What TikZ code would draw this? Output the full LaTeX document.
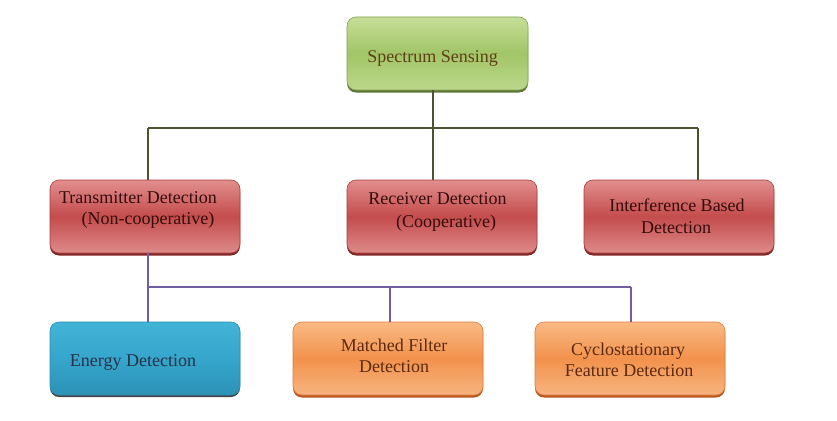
\documentclass[tikz,border=0pt]{standalone}
\usepackage{fontspec}
\setmainfont{Liberation Serif}
\definecolor{gTop}{RGB}{198,222,152}
\definecolor{gMid}{RGB}{162,197,102}
\definecolor{gBot}{RGB}{188,216,140}
\definecolor{gEdge}{RGB}{128,160,78}
\definecolor{gShd}{RGB}{92,118,52}
\definecolor{gTxt}{RGB}{96,62,24}
\definecolor{rTop}{RGB}{226,142,142}
\definecolor{rMid}{RGB}{196,76,76}
\definecolor{rBot}{RGB}{222,138,138}
\definecolor{rEdge}{RGB}{168,60,60}
\definecolor{rShd}{RGB}{130,38,38}
\definecolor{rTxt}{RGB}{52,12,12}
\definecolor{bTop}{RGB}{66,180,214}
\definecolor{bMid}{RGB}{54,166,204}
\definecolor{bBot}{RGB}{44,146,182}
\definecolor{bEdge}{RGB}{40,140,178}
\definecolor{bShd}{RGB}{70,70,70}
\definecolor{bTxt}{RGB}{40,48,70}
\definecolor{oTop}{RGB}{250,186,132}
\definecolor{oMid}{RGB}{242,146,76}
\definecolor{oBot}{RGB}{248,180,128}
\definecolor{oEdge}{RGB}{222,122,60}
\definecolor{oShd}{RGB}{186,88,30}
\definecolor{oTxt}{RGB}{92,42,18}
\definecolor{lineA}{RGB}{78,82,48}
\definecolor{lineB}{RGB}{112,92,160}
\tikzset{
  boxbase/.style={rectangle, rounded corners=9pt, minimum width=190pt, minimum height=73pt, inner sep=0pt, line width=0.6pt},
  gbox/.style={boxbase, minimum width=181pt, draw=gEdge, top color=gTop, bottom color=gBot, middle color=gMid,
    preaction={fill=gShd, transform canvas={yshift=-2.5pt}}},
  rbox/.style={boxbase, draw=rEdge, top color=rTop, bottom color=rBot, middle color=rMid,
    preaction={fill=rShd, transform canvas={yshift=-2.5pt}}},
  bbox/.style={boxbase, draw=bEdge, top color=bTop, bottom color=bBot, middle color=bMid,
    preaction={fill=bShd, transform canvas={yshift=-2pt}}},
  obox/.style={boxbase, draw=oEdge, top color=oTop, bottom color=oBot, middle color=oMid,
    preaction={fill=oShd, transform canvas={yshift=-2.5pt}}},
  txt/.style={anchor=base, inner sep=0pt, font=\fontsize{18}{21}\selectfont},
  connA/.style={draw=lineA, line width=1.2pt},
  connB/.style={draw=lineB, line width=1.2pt},
}
\begin{document}
\begin{tikzpicture}[x=1pt,y=-1pt]
\useasboundingbox (0,0) rectangle (837,420);
% boxes
\node[gbox] (ss) at (437.5,53.5) {};
\node[rbox] (td) at (145,216.5) {};
\node[rbox] (rd) at (442,216.5) {};
\node[rbox] (ib) at (679,216.5) {};
\node[bbox] (ed) at (145,358.5) {};
\node[obox] (mf) at (388,358.5) {};
\node[obox] (cf) at (630,358.5) {};
% junction coordinates
\coordinate (j0) at (433,128);
\coordinate (jT) at (148,128);
\coordinate (jR) at (433,128);
\coordinate (jI) at (698,128);
\coordinate (k0) at (148,287);
\coordinate (kE) at (148,287);
\coordinate (kM) at (390,287);
\coordinate (kC) at (631,287);
% connectors level 1
\begin{scope}[on background layer/.style={}]
\draw[connA] (ss.south -| j0) -- (j0);
\draw[connA] (jT) -- (jI);
\draw[connA] (jT) -- (td.north -| jT);
\draw[connA] (jR) -- (rd.north -| jR);
\draw[connA] (jI) -- (ib.north -| jI);
% connectors level 2
\draw[connB] (td.south -| k0) -- (k0);
\draw[connB] (kE) -- (kC);
\draw[connB] (kE) -- (ed.north -| kE);
\draw[connB] (kM) -- (mf.north -| kM);
\draw[connB] (kC) -- (cf.north -| kC);
\end{scope}
% texts
\node[txt, text=gTxt] (ssT) at (432.5,63) {Spectrum Sensing};
\node[txt, text=rTxt] (tdA) at (138,203) {Transmitter Detection};
\node[txt, text=rTxt] (tdB) at (148,224) {(Non-cooperative)};
\node[txt, text=rTxt] (rdA) at (437.5,204) {Receiver Detection};
\node[txt, text=rTxt] (rdB) at (446,227) {(Cooperative)};
\node[txt, text=rTxt] (ibA) at (677,211) {Interference Based};
\node[txt, text=rTxt] (ibB) at (676,233) {Detection};
\node[txt, text=bTxt] (edT) at (133,366) {Energy Detection};
\node[txt, text=oTxt] (mfA) at (394,351) {Matched Filter};
\node[txt, text=oTxt] (mfB) at (394,372) {Detection};
\node[txt, text=oTxt] (cfA) at (628,355) {Cyclostationary};
\node[txt, text=oTxt] (cfB) at (629,376) {Feature Detection};
\end{tikzpicture}
\end{document}
